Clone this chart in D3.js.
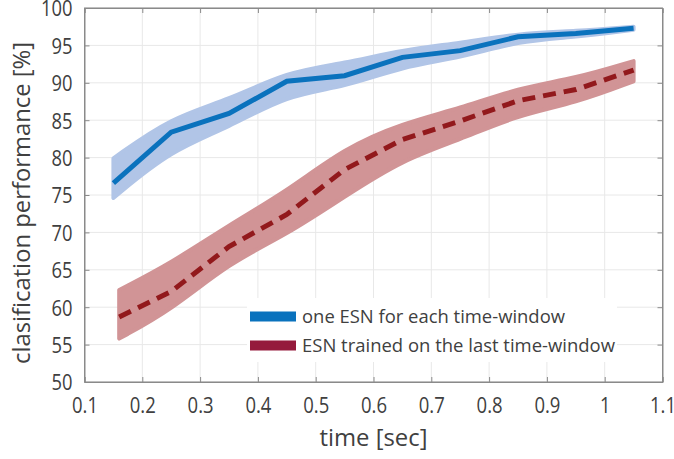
<!DOCTYPE html>
<html>
<head>
<meta charset="utf-8">
<script src="https://cdn.jsdelivr.net/npm/d3@7"></script>
<style>
  body { margin: 0; background: #fff; }
  text { font-family: "Open Sans", sans-serif; fill: #404040; }
</style>
</head>
<body>
<div id="chart"></div>
<script>
// one ESN for each time-window
const timeBlue = [0.15, 0.25, 0.35, 0.45, 0.55, 0.65, 0.75, 0.85, 0.95, 1.05];
const blueMean = [76.6, 83.4, 85.9, 90.2, 90.95, 93.4, 94.3, 96.15, 96.6, 97.3];
const blueUpper = [79.9, 85.4, 87.7, 91.5, 92.6, 94.4, 95.3, 96.6, 96.9, 97.5];
const blueLower = [74.6, 81.0, 84.0, 88.4, 89.4, 92.2, 93.3, 95.6, 96.1, 97.1];

// ESN trained on the last time-window
const timeRed = [0.16, 0.25, 0.35, 0.45, 0.55, 0.65, 0.75, 0.85, 0.95, 1.05];
const redMean = [58.7, 62.1, 68.1, 72.4, 78.4, 82.4, 84.9, 87.6, 89.1, 91.7];
const redUpper = [62.3, 65.9, 71.0, 75.5, 81.3, 84.6, 86.6, 89.3, 90.6, 92.9];
const redLower = [55.8, 59.6, 65.9, 69.7, 74.8, 79.7, 82.4, 85.7, 87.3, 90.2];

const xTicks = [0.1, 0.2, 0.3, 0.4, 0.5, 0.6, 0.7, 0.8, 0.9, 1, 1.1];
const yTicks = [50, 55, 60, 65, 70, 75, 80, 85, 90, 95, 100];
const legendLabels = ["one ESN for each time-window", "ESN trained on the last time-window"];

const W = 674, H = 459;
const margin = {top: 8, right: 11.5, bottom: 77, left: 84.5};
const width = W - margin.left - margin.right;
const height = H - margin.top - margin.bottom;

const svg = d3.select("#chart").append("svg")
    .attr("width", W)
    .attr("height", H);

const g = svg.append("g")
    .attr("transform", "translate(" + margin.left + "," + margin.top + ")");

const x = d3.scaleLinear().domain([0.1, 1.1]).range([0, width]);
const y = d3.scaleLinear().domain([50, 100]).range([height, 0]);

// grid
g.append("g").selectAll("line")
    .data(xTicks)
    .enter().append("line")
    .attr("x1", d => x(d)).attr("x2", d => x(d))
    .attr("y1", 0).attr("y2", height)
    .attr("stroke", "#e8e8e8").attr("stroke-width", 1);

g.append("g").selectAll("line")
    .data(yTicks)
    .enter().append("line")
    .attr("x1", 0).attr("x2", width)
    .attr("y1", d => y(d)).attr("y2", d => y(d))
    .attr("stroke", "#e8e8e8").attr("stroke-width", 1);

function zipBand(t, lo, hi) {
    return t.map((d, i) => ({t: d, lo: lo[i], hi: hi[i]}));
}
function zipLine(t, v) {
    return t.map((d, i) => ({t: d, v: v[i]}));
}

const area = d3.area()
    .x(d => x(d.t))
    .y0(d => y(d.lo))
    .y1(d => y(d.hi))
    .curve(d3.curveBasis);

const line = d3.line()
    .x(d => x(d.t))
    .y(d => y(d.v));

// bands
g.append("path")
    .datum(zipBand(timeBlue, blueLower, blueUpper))
    .attr("d", area)
    .attr("fill", "#b1c5e7")
    .attr("stroke", "#b1c5e7")
    .attr("stroke-width", 4)
    .attr("stroke-linejoin", "round");

g.append("path")
    .datum(zipBand(timeRed, redLower, redUpper))
    .attr("d", area)
    .attr("fill", "#d19496")
    .attr("stroke", "#d19496")
    .attr("stroke-width", 4)
    .attr("stroke-linejoin", "round");

// mean lines
g.append("path")
    .datum(zipLine(timeBlue, blueMean))
    .attr("d", line)
    .attr("fill", "none")
    .attr("stroke", "#0a72bd")
    .attr("stroke-width", 5);

g.append("path")
    .datum(zipLine(timeRed, redMean))
    .attr("d", line)
    .attr("fill", "none")
    .attr("stroke", "#92191c")
    .attr("stroke-width", 5)
    .attr("stroke-dasharray", "13,8");

// axes box
const axisColor = "#8a8a8a";
g.append("rect")
    .attr("x", 0).attr("y", 0)
    .attr("width", width).attr("height", height)
    .attr("fill", "none")
    .attr("stroke", axisColor)
    .attr("stroke-width", 1);

const fmt = d3.format("~g");
// narrow, Myriad-like widths for the numbers
const labelWidth = s => s.replace(/\./g, "").length * 10.5 + (s.includes(".") ? 5 : 0);

const xAxis = g.append("g")
    .attr("transform", "translate(0," + height + ")")
    .call(d3.axisBottom(x).tickValues(xTicks).tickSize(-5).tickPadding(12).tickFormat(fmt));
const xAxisTop = g.append("g")
    .call(d3.axisTop(x).tickValues(xTicks).tickSize(-5).tickFormat(""));
const yAxis = g.append("g")
    .call(d3.axisLeft(y).tickValues(yTicks).tickSize(-5).tickPadding(12));
const yAxisRight = g.append("g")
    .attr("transform", "translate(" + width + ",0)")
    .call(d3.axisRight(y).tickValues(yTicks).tickSize(-5).tickFormat(""));

[xAxis, xAxisTop, yAxis, yAxisRight].forEach(a => {
    a.select(".domain").attr("stroke", axisColor);
    a.selectAll(".tick line").attr("stroke", axisColor);
    a.selectAll("text")
        .style("font-family", "'Open Sans', sans-serif")
        .style("font-size", "21px")
        .attr("fill", "#404040")
        .attr("textLength", function() { return labelWidth(this.textContent); })
        .attr("lengthAdjust", "spacingAndGlyphs");
});
xAxis.selectAll("text").attr("dy", "0.9em");
yAxis.selectAll("text").attr("dy", "0.38em");

// axis titles
svg.append("text")
    .attr("x", margin.left + width / 2)
    .attr("y", 446)
    .attr("text-anchor", "middle")
    .attr("textLength", 108)
    .attr("lengthAdjust", "spacingAndGlyphs")
    .style("font-size", "23px")
    .text("time [sec]");

svg.append("text")
    .attr("transform", "translate(30," + 203 + ") rotate(-90)")
    .attr("text-anchor", "middle")
    .attr("textLength", 322)
    .attr("lengthAdjust", "spacingAndGlyphs")
    .style("font-size", "24px")
    .text("clasification performance [%]");

// legend
const legendColors = ["#0a72bd", "#951a3c"];
const legend = g.append("g")
    .attr("transform", "translate(" + (247 - margin.left) + "," + (298 - margin.top) + ")");

legend.append("rect")
    .attr("x", 0).attr("y", 0)
    .attr("width", 370).attr("height", 64)
    .attr("fill", "#fff");

const items = legend.selectAll("g.item")
    .data(legendLabels)
    .enter().append("g")
    .attr("transform", (d, i) => "translate(0," + (18.5 + i * 29) + ")");

items.append("rect")
    .attr("x", 3).attr("y", -5)
    .attr("width", 46).attr("height", 10)
    .attr("fill", (d, i) => legendColors[i]);

items.append("text")
    .attr("x", 55)
    .attr("dy", "0.35em")
    .attr("textLength", (d, i) => i === 0 ? 263 : 313)
    .attr("lengthAdjust", "spacingAndGlyphs")
    .style("font-size", "19px")
    .text(d => d);
</script>
</body>
</html>
